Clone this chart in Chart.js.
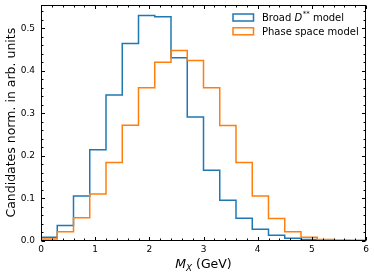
<!DOCTYPE html>
<html>
<head>
<meta charset="utf-8">
<script src="https://cdn.jsdelivr.net/npm/chart.js@4"></script>
<style>
  html, body { margin: 0; padding: 0; background: #fff; }
  #wrap { width: 374px; height: 277px; position: relative; }
</style>
</head>
<body>
<div id="wrap"><canvas id="c" width="374" height="277"></canvas></div>
<script>
// ---- data ----
const binEdges = [0.0, 0.3, 0.6, 0.9, 1.2, 1.5, 1.8, 2.1, 2.4, 2.7, 3.0, 3.3, 3.6, 3.9, 4.2, 4.5, 4.8, 5.1, 5.4, 5.7, 6.0];
const broadValues = [0.008, 0.036, 0.105, 0.214, 0.343, 0.464, 0.530, 0.527, 0.431, 0.291, 0.166, 0.095, 0.053, 0.027, 0.013, 0.006, 0.003, 0.0015, 0.0006, 0.0002];
const phaseValues = [0.004, 0.021, 0.054, 0.110, 0.184, 0.272, 0.360, 0.420, 0.448, 0.424, 0.360, 0.271, 0.184, 0.105, 0.052, 0.021, 0.008, 0.003, 0.001, 0.0004];
const xTicks = [0, 1, 2, 3, 4, 5, 6];
const yTicks = [0.0, 0.1, 0.2, 0.3, 0.4, 0.5];
const seriesNames = ["Broad D** model", "Phase space model"];
const xRange = [0, 6];
const yRange = [0, 0.5556];

const BLUE = '#1f77b4';
const ORANGE = '#ff7f0e';
const FONT = 'DejaVu Sans';

function stepPoints(values) {
  const pts = values.map((v, i) => ({ x: binEdges[i], y: v }));
  pts.push({ x: binEdges[values.length], y: values[values.length - 1] });
  return pts;
}

function zeroPad(s) { s.paddingTop = 0; s.paddingBottom = 0; s.paddingLeft = 0; s.paddingRight = 0; }

const framePlugin = {
  id: 'frameTicks',
  afterDraw(chart) {
    const ctx = chart.ctx;
    const a = chart.chartArea;
    const xs = chart.scales.x, ys = chart.scales.y;
    ctx.save();
    ctx.strokeStyle = '#000';
    ctx.lineWidth = 1;
    const L = Math.round(a.left) + 0.5, R = Math.round(a.right) - 0.5;
    const T = Math.round(a.top) + 0.5, B = Math.round(a.bottom) - 0.5;
    ctx.strokeRect(L, T, R - L, B - T);
    ctx.beginPath();
    for (let i = 0; i <= 30; i++) {
      const v = xRange[0] + i * 0.2;
      const px = Math.round(xs.getPixelForValue(v)) + 0.5;
      const len = (i % 5 === 0) ? 3.5 : 2;
      ctx.moveTo(px, B); ctx.lineTo(px, B - len);
      ctx.moveTo(px, T); ctx.lineTo(px, T + len);
    }
    for (let i = 0; i <= 27; i++) {
      const v = i * 0.02;
      const py = Math.round(ys.getPixelForValue(v)) + 0.5;
      const len = (i % 5 === 0) ? 3.5 : 2;
      ctx.moveTo(L, py); ctx.lineTo(L + len, py);
      ctx.moveTo(R, py); ctx.lineTo(R - len, py);
    }
    ctx.stroke();

    // y axis title
    ctx.fillStyle = '#000';
    ctx.save();
    ctx.translate(15, (a.top + a.bottom) / 2);
    ctx.rotate(-Math.PI / 2);
    ctx.font = '12.5px "' + FONT + '"';
    ctx.textAlign = 'center';
    ctx.textBaseline = 'alphabetic';
    ctx.fillText('Candidates norm. in arb. units', 0, 0);
    ctx.restore();

    // x axis title: M_X (GeV)
    const fM = 'italic 12.5px "' + FONT + '"';
    const fSub = 'italic 8.8px "' + FONT + '"';
    const fN = '12.5px "' + FONT + '"';
    ctx.textBaseline = 'alphabetic';
    ctx.textAlign = 'left';
    ctx.font = fM; const wM = ctx.measureText('M').width;
    ctx.font = fSub; const wX = ctx.measureText('X').width;
    ctx.font = fN; const wR = ctx.measureText(' (GeV)').width;
    const total = wM + wX + wR;
    let x0 = (a.left + a.right) / 2 - total / 2;
    const by = 268;
    ctx.font = fM; ctx.fillText('M', x0, by); x0 += wM;
    ctx.font = fSub; ctx.fillText('X', x0, by + 2.5); x0 += wX;
    ctx.font = fN; ctx.fillText(' (GeV)', x0, by);

    // legend
    const rows = [
      { color: BLUE, y: 17.5 },
      { color: ORANGE, y: 31.3 }
    ];
    ctx.lineWidth = 1.5;
    rows.forEach(r => {
      ctx.strokeStyle = r.color;
      ctx.strokeRect(233, r.y - 3.5, 20.5, 7);
    });
    ctx.fillStyle = '#000';
    ctx.textBaseline = 'middle';
    const f10 = '10px "' + FONT + '"';
    const f10i = 'italic 10px "' + FONT + '"';
    const f7 = '7px "' + FONT + '"';
    let tx = 262;
    let ty = 18.3;
    ctx.font = f10; ctx.fillText('Broad ', tx, ty); tx += ctx.measureText('Broad ').width;
    ctx.font = f10i; ctx.fillText('D', tx, ty); tx += ctx.measureText('D').width + 0.5;
    ctx.font = f7; ctx.fillText('**', tx, ty - 4); tx += ctx.measureText('**').width;
    ctx.font = f10; ctx.fillText(' model', tx, ty);
    ctx.fillText(seriesNames[1], 262, 32.1);
    ctx.restore();
  }
};

new Chart(document.getElementById('c'), {
  type: 'line',
  data: {
    datasets: [
      { label: seriesNames[0], data: stepPoints(broadValues), borderColor: BLUE, borderWidth: 1.5,
        stepped: 'before', pointRadius: 0, fill: false, order: 1 },
      { label: seriesNames[1], data: stepPoints(phaseValues), borderColor: ORANGE, borderWidth: 1.5,
        stepped: 'before', pointRadius: 0, fill: false, order: 0 }
    ]
  },
  options: {
    responsive: false,
    animation: false,
    devicePixelRatio: 1,
    layout: { padding: { top: 4.7, right: 8, left: 0, bottom: 0 } },
    plugins: { legend: { display: false }, tooltip: { enabled: false }, title: { display: false } },
    scales: {
      x: {
        type: 'linear', min: xRange[0], max: xRange[1],
        afterBuildTicks: s => { s.ticks = xTicks.map(v => ({ value: v })); },
        afterFit: s => { s.height = 36.3; zeroPad(s); },
        grid: { display: false, drawTicks: false }, border: { display: false },
        ticks: { font: { family: FONT, size: 9 }, color: '#000', padding: 4, maxRotation: 0, autoSkip: false,
                 callback: v => String(v) }
      },
      y: {
        type: 'linear', min: yRange[0], max: yRange[1],
        afterBuildTicks: s => { s.ticks = yTicks.map(v => ({ value: v })); },
        afterFit: s => { s.width = 41; zeroPad(s); },
        grid: { display: false, drawTicks: false }, border: { display: false },
        ticks: { font: { family: FONT, size: 9 }, color: '#000', padding: 6,
                 callback: v => Number(v).toFixed(1) }
      }
    }
  },
  plugins: [framePlugin]
});
</script>
</body>
</html>
